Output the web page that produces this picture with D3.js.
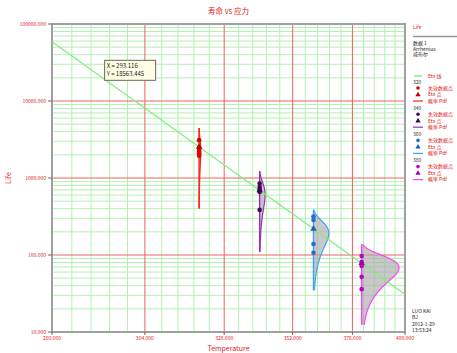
<!DOCTYPE html>
<html><head><meta charset="utf-8">
<script src="https://cdn.jsdelivr.net/npm/d3@7"></script>
<style>body{margin:0;background:#fff}svg{display:block;font-family:"Noto Sans CJK SC","DejaVu Sans",sans-serif}</style>
</head><body><svg id="c" width="457" height="353"></svg>
<script>
// ---- data ----
const stresses = [320, 340, 360, 380];
const failures320 = [3100, 2450, 2250, 2100, 1950];
const failures340 = [850, 765, 710, 660, 385];
const failures360 = [316, 285, 139, 107];
const failures380 = [97, 81, 72, 52, 36];
const xTicks = [280, 304, 328, 352, 376, 400];
const yTicks = [10, 100, 1000, 10000, 100000];
const xTickLabels = ["280.000", "304.000", "328.000", "352.000", "376.000", "400.000"];
const yTickLabels = ["10.000", "100.000", "1000.000", "10000.000", "100000.000"];
// Arrhenius-Weibull model (log10 Eta = a + b / T), Weibull shape beta
const modelA = -6.1625, modelB = 3061, weibullBeta = 3;
const annotX = 293.116, annotY = 18563.445;
const legendHeader = ["数据 1", "Arrhenius", "威布尔"];
const legendItems = ["失效数据点", "Eta 点", "概率 Pdf"];
const footer = ["LUO KAI", "BJ", "2012-1-29", "13:53:24"];

const failures = [failures320, failures340, failures360, failures380];
const dotColors = ["#e00000", "#4a0a5c", "#1e70c8", "#c000c0"];
const triColors = ["#c00000", "#3a0a50", "#1a5fb0", "#9a00a8"];
const pdfColors = ["#ff2020", "#9a30b8", "#40a0ff", "#ff40ff"];

const svg = d3.select("#c");
const L = 52, R = 405, T = 24, B = 332;
const xInv = d3.scaleLinear().domain([1/280, 1/400]).range([L, R]);
const xs = t => xInv(1 / t);
const y = d3.scaleLog().domain([10, 100000]).range([B, T]);
const eta = t => Math.pow(10, modelA + modelB / t);

// minor grid
const g = svg.append("g");
const minorX = d3.range(280, 400.01, 4.8).filter(v => !xTicks.some(t => Math.abs(t - v) < 0.01));
g.selectAll(".mx").data(minorX).enter().append("line")
  .attr("x1", d => xs(d)).attr("x2", d => xs(d)).attr("y1", T).attr("y2", B)
  .attr("stroke", "#b4f0b4").attr("stroke-width", 1);
const minorY = [];
yTicks.slice(0, -1).forEach(d => { for (let k = 2; k <= 9; k++) minorY.push(d * k); });
g.selectAll(".my").data(minorY).enter().append("line")
  .attr("x1", L).attr("x2", R).attr("y1", d => y(d)).attr("y2", d => y(d))
  .attr("stroke", "#b4f0b4").attr("stroke-width", 1);
// major grid
g.selectAll(".Mx").data(xTicks.slice(1, -1)).enter().append("line")
  .attr("x1", d => xs(d)).attr("x2", d => xs(d)).attr("y1", T).attr("y2", B)
  .attr("stroke", "#f06060").attr("stroke-width", 1);
g.selectAll(".My").data(yTicks.slice(1, -1)).enter().append("line")
  .attr("x1", L).attr("x2", R).attr("y1", d => y(d)).attr("y2", d => y(d))
  .attr("stroke", "#f06060").attr("stroke-width", 1);

// frame
svg.append("rect").attr("x", L).attr("y", T).attr("width", R - L).attr("height", B - T)
  .attr("fill", "none").attr("stroke", "#a0a0a0").attr("stroke-width", 2);

// axes
const xAxis = svg.append("g").attr("transform", `translate(0,${B})`);
xTicks.forEach((t, i) => {
  xAxis.append("line").attr("x1", xs(t)).attr("x2", xs(t)).attr("y1", 0).attr("y2", 3).attr("stroke", "#666");
  xAxis.append("text").attr("x", xs(t)).attr("y", 8).attr("text-anchor", "middle")
    .attr("font-size", 5).attr("fill", "#e02020").text(xTickLabels[i]);
});
const yAxis = svg.append("g");
yTicks.forEach((t, i) => {
  yAxis.append("line").attr("x1", L - 4).attr("x2", L).attr("y1", y(t)).attr("y2", y(t)).attr("stroke", "#666");
  yAxis.append("text").attr("x", L - 6).attr("y", y(t) + 1.8).attr("text-anchor", "end")
    .attr("font-size", 5).attr("fill", "#e02020").text(yTickLabels[i]);
});
svg.append("text").attr("x", (L + R) / 2).attr("y", 351).attr("text-anchor", "middle")
  .attr("font-size", 7).attr("fill", "#e02020").text("Temperature");
svg.append("text").attr("transform", `translate(11,${(T + B) / 2}) rotate(-90)`).attr("text-anchor", "middle")
  .attr("font-size", 7).attr("fill", "#e02020").text("Life");
svg.append("text").attr("x", (L + R) / 2).attr("y", 14).attr("text-anchor", "middle")
  .attr("font-size", 7.5).attr("fill", "#e02020").text("寿命 vs 应力");

// pdfs
const pdfK = 1140;
const wpdf = (t, e) => (weibullBeta / e) * Math.pow(t / e, weibullBeta - 1) * Math.exp(-Math.pow(t / e, weibullBeta));
const pdfG = svg.append("g");
stresses.forEach((s, i) => {
  const e = eta(s);
  const tLo = e * Math.pow(-Math.log(1 - 0.004), 1 / weibullBeta);
  const tHi = e * Math.pow(-Math.log(0.004), 1 / weibullBeta);
  const ts = d3.range(0, 121).map(j => tLo * Math.pow(tHi / tLo, j / 120));
  const area = d3.area().x0(() => xs(s)).x1(t => xs(s + pdfK * wpdf(t, e))).y(t => y(t));
  pdfG.append("path").datum(ts).attr("d", area).attr("fill", "#ababab").attr("fill-opacity", 0.65);
  const line = d3.line().x(t => xs(s + pdfK * wpdf(t, e))).y(t => y(t));
  pdfG.append("path").datum(ts).attr("d", line).attr("fill", "none").attr("stroke", pdfColors[i]).attr("stroke-width", 1.2);
  pdfG.append("line").attr("x1", xs(s)).attr("x2", xs(s)).attr("y1", y(tLo)).attr("y2", y(tHi))
    .attr("stroke", pdfColors[i]).attr("stroke-width", 1.4);
});

// Eta line
const lineT = [280, 400];
svg.append("path").datum(lineT)
  .attr("d", d3.line().x(t => xs(t)).y(t => y(eta(t))))
  .attr("stroke", "#80ee80").attr("stroke-width", 1.2).attr("fill", "none");

// data points
const tri = d3.symbol().type(d3.symbolTriangle).size(18);
stresses.forEach((s, i) => {
  svg.append("g").selectAll("circle").data(failures[i]).enter().append("circle")
    .attr("cx", xs(s)).attr("cy", d => y(d)).attr("r", 2.3).attr("fill", dotColors[i]);
  svg.append("path").attr("d", tri).attr("transform", `translate(${xs(s)},${y(eta(s))})`).attr("fill", triColors[i]);
});

// annotation
const ax = xs(annotX), ay = y(annotY);
svg.append("rect").attr("x", ax).attr("y", ay - 20).attr("width", 51).attr("height", 20)
  .attr("fill", "#ffffe6").attr("stroke", "#6a6a50").attr("stroke-width", 1);
svg.append("text").attr("x", ax + 2).attr("y", ay - 12.5).attr("font-size", 6).attr("fill", "#222").text("X = " + annotX.toFixed(3));
svg.append("text").attr("x", ax + 2).attr("y", ay - 4).attr("font-size", 6).attr("fill", "#222").text("Y = " + annotY.toFixed(3));

// legend
const lg = svg.append("g");
lg.append("text").attr("x", 413).attr("y", 29).attr("font-size", 5).attr("fill", "#e02020").text("Life");
lg.append("line").attr("x1", 413).attr("x2", 457).attr("y1", 36.5).attr("y2", 36.5).attr("stroke", "#999").attr("stroke-width", 1.5);
legendHeader.forEach((t, i) => lg.append("text").attr("x", 413).attr("y", 45 + i * 5.5).attr("font-size", 5).attr("fill", "#222").text(t));
lg.append("line").attr("x1", 414).attr("x2", 422).attr("y1", 76).attr("y2", 76).attr("stroke", "#80ee80").attr("stroke-width", 1.5);
lg.append("text").attr("x", 428).attr("y", 77.8).attr("font-size", 5).attr("fill", "#e02020").text("Eta 线");
stresses.forEach((s, i) => {
  const y0 = 82 + i * 26.2;
  lg.append("text").attr("x", 413).attr("y", y0 + 1.8).attr("font-size", 5).attr("fill", "#333").text(String(s));
  lg.append("circle").attr("cx", 418).attr("cy", y0 + 6).attr("r", 1.8).attr("fill", dotColors[i]);
  lg.append("text").attr("x", 428).attr("y", y0 + 7.8).attr("font-size", 5).attr("fill", "#e02020").text(legendItems[0]);
  lg.append("path").attr("d", d3.symbol().type(d3.symbolTriangle).size(12)).attr("transform", `translate(418,${y0 + 12.7})`).attr("fill", triColors[i]);
  lg.append("text").attr("x", 428).attr("y", y0 + 14.3).attr("font-size", 5).attr("fill", "#e02020").text(legendItems[1]);
  lg.append("line").attr("x1", 413).attr("x2", 423).attr("y1", y0 + 19).attr("y2", y0 + 19).attr("stroke", pdfColors[i]).attr("stroke-width", 1.2);
  lg.append("text").attr("x", 428).attr("y", y0 + 20.8).attr("font-size", 5).attr("fill", "#e02020").text(legendItems[2]);
});
footer.forEach((t, i) => svg.append("text").attr("x", 412).attr("y", 313 + i * 6.3).attr("font-size", 5).attr("fill", "#222").text(t));
</script></body></html>
